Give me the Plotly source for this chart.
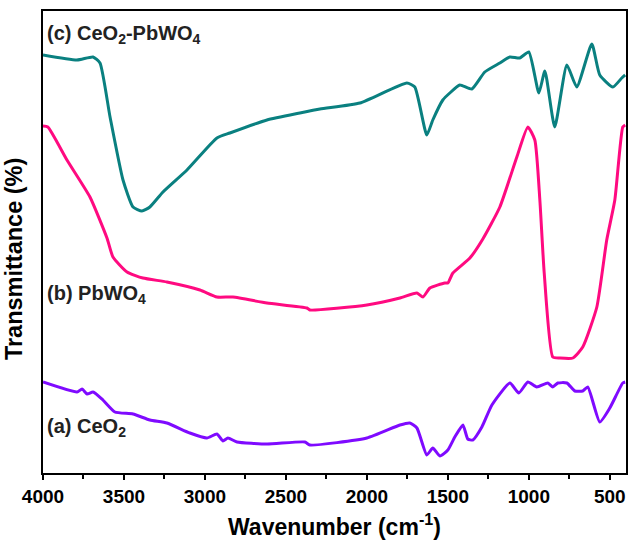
import plotly.graph_objects as go

# Curve (c) CeO2-PbWO4 : wavenumber, transmittance (arbitrary units)
wn_c = [4000, 3790, 3691, 3648, 3586, 3506, 3444, 3389, 3340, 3259, 3111, 2926, 2846,
        2617, 2414, 2290, 2043, 1753, 1704, 1630, 1593, 1531, 1488, 1426, 1352, 1272,
        1179, 1117, 1056, 1000, 938, 901, 840, 765, 704, 611, 562, 481, 426, 405]
t_c = [418, 413, 416, 410, 356, 293, 266, 262, 266, 281, 303, 335, 340,
       353, 360, 364, 370, 390, 386, 338, 353, 373, 380, 388, 384, 401,
       410, 416, 415, 421, 380, 402, 346, 408, 386, 429, 398, 386, 395, 398]

# Curve (b) PbWO4
wn_b = [4000, 3970, 3852, 3710, 3605, 3568, 3481, 3383, 3235, 3031, 2926, 2827, 2617,
        2370, 2352, 2000, 1796, 1691, 1654, 1611, 1519, 1500, 1469, 1364, 1284, 1179,
        1074, 1006, 963, 932, 905, 852, 809, 728, 667, 580, 519, 469, 420, 405]
t_b = [347, 346, 313, 276, 235, 216, 201, 195, 191, 183, 176, 176, 170,
       165, 163, 168, 175, 180, 176, 185, 190, 190, 200, 215, 234, 266,
       316, 346, 333, 273, 200, 116, 115, 115, 126, 166, 233, 273, 346, 348]

# Curve (a) CeO2
wn_a = [4000, 3790, 3759, 3728, 3691, 3630, 3556, 3444, 3340, 3235, 3093, 2988, 2926,
        2889, 2858, 2802, 2617, 2383, 2352, 2000, 1796, 1735, 1691, 1630, 1593, 1549,
        1500, 1457, 1407, 1377, 1346, 1290, 1228, 1117, 1062, 1006, 951, 883, 852, 821,
        765, 716, 667, 636, 562, 500, 420, 405]
t_a = [91, 81, 84, 79, 81, 73, 61, 59, 53, 50, 40, 35, 39,
       32, 35, 31, 29, 31, 28, 35, 48, 50, 45, 18, 25, 17,
       23, 36, 48, 34, 33, 46, 68, 90, 80, 91, 86, 90, 86, 90,
       90, 82, 82, 86, 51, 65, 90, 91]

labels = ["(c) CeO<sub>2</sub>-PbWO<sub>4</sub>", "(b) PbWO<sub>4</sub>", "(a) CeO<sub>2</sub>"]
label_y = [439, 179, 46]
colors = ["#0a8080", "#ff0a80", "#7f0aff"]

FONT = "Arial, Liberation Sans, sans-serif"

fig = go.Figure()
for wn, t, col in [(wn_c, t_c, colors[0]), (wn_b, t_b, colors[1]), (wn_a, t_a, colors[2])]:
    fig.add_trace(go.Scatter(x=wn, y=t, mode="lines",
                             line=dict(color=col, width=3, shape="spline", smoothing=0.5),
                             showlegend=False, hoverinfo="skip"))

for lab, ly in zip(labels, label_y):
    fig.add_annotation(x=3985, y=ly, text=lab, showarrow=False, xanchor="left", yanchor="middle",
                       font=dict(family=FONT, size=20, color="#222222", weight="bold"))

# axis titles
fig.add_annotation(xref="paper", yref="paper", x=0, y=0.463, xshift=-29, text="Transmittance (%)",
                   textangle=-90, showarrow=False, xanchor="center", yanchor="middle",
                   font=dict(family=FONT, size=23.5, color="black", weight="bold"))
fig.add_annotation(xref="paper", yref="paper", x=0.5, y=0, yshift=-52, text="Wavenumber (cm<sup>-1</sup>)",
                   showarrow=False, xanchor="center", yanchor="middle",
                   font=dict(family=FONT, size=23, color="black", weight="bold"))

fig.update_layout(
    width=628, height=542,
    margin=dict(l=43, r=2, t=11, b=69),
    paper_bgcolor="white", plot_bgcolor="white",
    font=dict(family=FONT, color="black"),
)
fig.update_xaxes(
    range=[4000, 400], tickmode="linear", tick0=500, dtick=500, automargin=False,
    ticks="outside", ticklen=5, tickwidth=1.5, tickcolor="black",
    minor=dict(dtick=250, tick0=250, ticks="outside", ticklen=4, tickwidth=1.5, tickcolor="black"),
    showline=True, linecolor="black", linewidth=1.5, mirror=True, showgrid=False, zeroline=False,
    tickfont=dict(size=19, family=FONT, color="black", weight="bold"),
)
fig.update_yaxes(
    range=[0, 462], showticklabels=False, ticks="", automargin=False,
    showline=True, linecolor="black", linewidth=1.5, mirror=True, showgrid=False, zeroline=False,
)

fig.write_html("out.html", config={"displayModeBar": False},
               post_script="document.body.style.margin='0px';document.body.style.overflow='hidden';")
